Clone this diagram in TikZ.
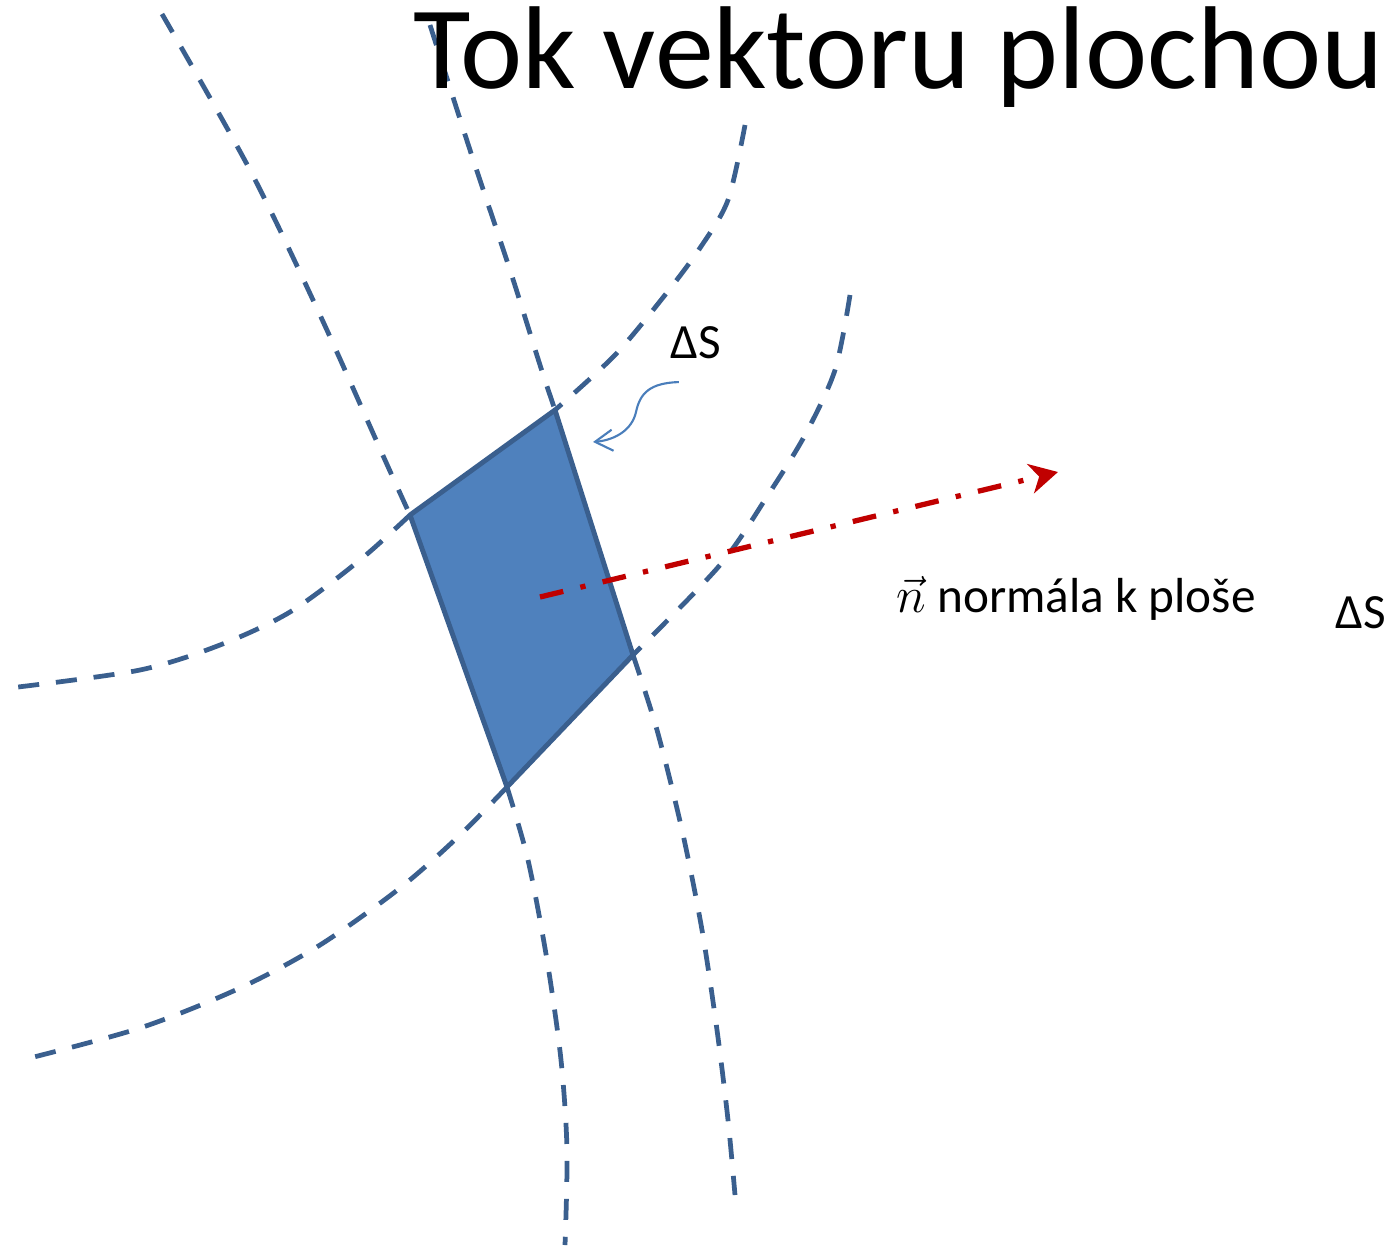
\documentclass[tikz,border=0pt]{standalone}
\usepackage{fontspec}
\setmainfont{Carlito}
\usetikzlibrary{arrows.meta}
\definecolor{lineblue}{HTML}{3A5F8E}
\definecolor{areablue}{HTML}{4F81BD}
\definecolor{pointerblue}{HTML}{4A7EBB}
\definecolor{normalred}{HTML}{C00000}
\tikzset{
  fieldline/.style={lineblue, line width=1.35pt, dash pattern=on 6pt off 4.8pt},
  patch/.style={fill=areablue, draw=lineblue, line width=1.4pt, line join=round},
  normalvec/.style={normalred, line width=1.5pt, dash pattern=on 6.8pt off 5pt on 1.5pt off 5pt,
    -{Stealth[length=8pt, width=8.5pt, inset=2.5pt]}},
  pointer/.style={pointerblue, line width=0.6pt, -{Straight Barb[length=5pt, width=6pt]}},
  lbl/.style={inner sep=0pt, anchor=base west, font=\fontsize{14}{17}\selectfont}
}
\begin{document}
\begin{tikzpicture}[x=0.01cm, y=-0.01cm]
  \useasboundingbox (0,0) rectangle (1394,1245);

  % corners of the surface element
  \coordinate (tl) at (410,515);
  \coordinate (tr) at (555,410);
  \coordinate (br) at (633,655);
  \coordinate (bl) at (507,787);

  % field lines
  \draw[fieldline] plot[smooth] coordinates {(162,14) (250,170) (320,315) (385,460) (tl)};
  \draw[fieldline] plot[smooth] coordinates {(bl) (528,860) (547,960) (561,1060) (567,1150) (565,1245)};
  \draw[fieldline] plot[smooth] coordinates {(430,25) (470,150) (510,270) (540,365) (tr)};
  \draw[fieldline] plot[smooth] coordinates {(br) (657,730) (682,830) (702,930) (717,1030) (728,1120) (735,1195)};
  \draw[fieldline] plot[smooth] coordinates {(745,125) (728,200) (700,248) (665,295) (615,355) (tr)};
  \draw[fieldline] plot[smooth] coordinates {(tl) (360,560) (290,612) (220,645) (140,670) (18,687)};
  \draw[fieldline] plot[smooth] coordinates {(850,295) (835,370) (805,435) (768,495) (720,565) (br)};
  \draw[fieldline] plot[smooth] coordinates {(bl) (460,835) (400,888) (320,945) (240,988) (140,1028) (22,1060)};

  % surface element
  \draw[patch] (tl) -- (tr) -- (br) -- (bl) -- cycle;

  % normal
  \coordinate (foot) at (540,597);
  \coordinate (head) at (1058,472);
  \draw[normalvec] (foot) -- (head);

  % labels
  \node[lbl, font=\fontsize{33.5}{40}\selectfont] (title) at (413,88) {Tok vektoru plochou};
  \node[lbl] (ds1) at (670,358) {ΔS};
  \node[lbl] (nlabel) at (896,612) {$\vec{n}$ normála k ploše};
  \node[lbl] (ds2) at (1335,628) {ΔS};

  \coordinate (ptip) at (593,442);
  \draw[pointer] ([shift={(-17,23)}]ds1.south) .. controls (650,383) and (640,393) .. (636,412)
    .. controls (632,430) and (615,440) .. (ptip);
\end{tikzpicture}
\end{document}
